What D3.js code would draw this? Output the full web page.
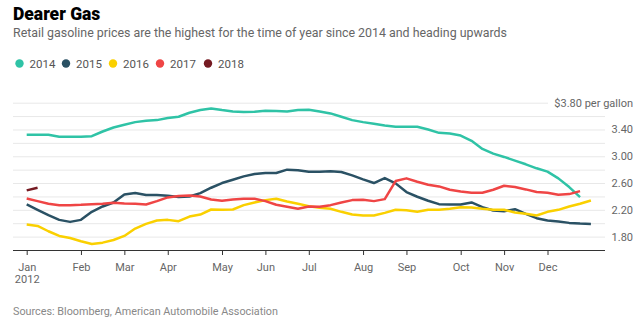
<!DOCTYPE html>
<html>
<head>
<meta charset="utf-8">
<script src="https://cdn.jsdelivr.net/npm/d3@7"></script>
<style>
  body { margin: 0; background: #fff; }
  text { font-family: Roboto, "Liberation Sans", sans-serif; }
  .axis path, .axis line { stroke: #333; }
  .axis text { fill: #666; font-size: 11px; }
</style>
</head>
<body>
<div id="chart"></div>
<script>
// weekly prices, index 0 = first week of january
var years = ["2014", "2015", "2016", "2017", "2018"];
var colors = ["#2fc3a6", "#2a5164", "#fad000", "#ef4545", "#751a22"];

var p2014 = [3.32, 3.32, 3.32, 3.29, 3.29, 3.29, 3.30, 3.37, 3.43, 3.47,
  3.51, 3.53, 3.54, 3.57, 3.59, 3.65, 3.69, 3.715, 3.69, 3.67,
  3.66, 3.665, 3.68, 3.675, 3.67, 3.69, 3.695, 3.67, 3.64, 3.59,
  3.54, 3.51, 3.485, 3.46, 3.44, 3.44, 3.44, 3.40, 3.35, 3.34,
  3.31, 3.23, 3.11, 3.04, 2.99, 2.935, 2.88, 2.82, 2.77, 2.67,
  2.54, 2.39];
var p2015 = [2.28, 2.20, 2.12, 2.05, 2.02, 2.05, 2.17, 2.25, 2.31, 2.43,
  2.45, 2.42, 2.42, 2.41, 2.39, 2.40, 2.45, 2.53, 2.60, 2.65,
  2.70, 2.735, 2.75, 2.75, 2.80, 2.79, 2.77, 2.77, 2.775, 2.765,
  2.715, 2.655, 2.60, 2.675, 2.595, 2.465, 2.395, 2.335, 2.285, 2.28,
  2.28, 2.31, 2.24, 2.19, 2.18, 2.21, 2.14, 2.075, 2.04, 2.025,
  2.005, 1.995, 1.99];
var p2016 = [1.98, 1.96, 1.88, 1.81, 1.78, 1.73, 1.69, 1.71, 1.75, 1.81,
  1.92, 1.99, 2.04, 2.05, 2.03, 2.10, 2.13, 2.205, 2.20, 2.205,
  2.27, 2.31, 2.345, 2.365, 2.325, 2.29, 2.255, 2.23, 2.215, 2.17,
  2.13, 2.115, 2.115, 2.155, 2.20, 2.195, 2.17, 2.20, 2.20, 2.215,
  2.24, 2.235, 2.215, 2.20, 2.20, 2.16, 2.14, 2.115, 2.17, 2.20,
  2.25, 2.29, 2.34];
var p2017 = [2.37, 2.33, 2.29, 2.27, 2.27, 2.275, 2.285, 2.29, 2.305, 2.295,
  2.29, 2.28, 2.33, 2.385, 2.405, 2.415, 2.40, 2.355, 2.335, 2.355,
  2.365, 2.365, 2.33, 2.275, 2.245, 2.215, 2.25, 2.245, 2.27, 2.31,
  2.345, 2.35, 2.33, 2.36, 2.63, 2.67, 2.62, 2.575, 2.55, 2.50,
  2.475, 2.455, 2.455, 2.50, 2.56, 2.54, 2.505, 2.465, 2.455, 2.425,
  2.435, 2.48];
var p2018 = [2.49, 2.53];

var monthLabels = ["Jan", "Feb", "Mar", "Apr", "May", "Jun", "Jul", "Aug", "Sep", "Oct", "Nov", "Dec"];
var monthWeeks = [0, 5, 9, 13, 18, 22, 26, 31, 35, 40, 44, 48];
var yTicks = [1.8, 2.2, 2.6, 3.0, 3.4, 3.8];
var gridValues = [1.8, 2.0, 2.2, 2.4, 2.6, 2.8, 3.0, 3.2, 3.4, 3.6, 3.8];

var series = [p2014, p2015, p2016, p2017, p2018];

var width = 644, height = 324;

var svg = d3.select("#chart").append("svg")
    .attr("width", width)
    .attr("height", height);

var xScale = d3.scaleLinear().domain([0, 52]).range([26.7, 590.9]);
var yScale = d3.scaleLinear().domain([1.6, 3.8]).range([250, 102.7]);

// title block
svg.append("text")
    .attr("x", 13).attr("y", 20)
    .attr("font-size", "17.5px")
    .attr("font-weight", 900)
    .attr("fill", "#000")
    .text("Dearer Gas");

svg.append("text")
    .attr("x", 13).attr("y", 37)
    .attr("font-size", "12.4px")
    .attr("fill", "#666")
    .text("Retail gasoline prices are the highest for the time of year since 2014 and heading upwards");

// legend
var legendX = [19.5, 66, 113, 160, 208];
var legend = svg.selectAll(".legend").data(years).enter().append("g")
    .attr("transform", (d, i) => "translate(" + legendX[i] + ",63.5)");
legend.append("circle")
    .attr("r", 4.2)
    .attr("fill", (d, i) => colors[i]);
legend.append("text")
    .attr("x", 10).attr("y", 4)
    .attr("font-size", "11.5px")
    .attr("fill", "#555")
    .text(d => d);

// grid
svg.append("g").selectAll("line").data(gridValues).enter().append("line")
    .attr("x1", 13)
    .attr("x2", d => d === 3.8 ? 548 : 605)
    .attr("y1", d => yScale(d) + 0.5)
    .attr("y2", d => yScale(d) + 0.5)
    .attr("stroke", "#e8e8e8")
    .attr("stroke-width", 1);

// y labels
svg.append("g").selectAll("text").data(yTicks).enter().append("text")
    .attr("x", 633)
    .attr("y", d => yScale(d) + 4)
    .attr("text-anchor", "end")
    .attr("font-size", "11px")
    .attr("fill", "#666")
    .text(d => d === 3.8 ? "$3.80 per gallon" : d.toFixed(2));

// x axis
var xAxis = d3.axisBottom(xScale)
    .tickValues(monthWeeks)
    .tickSize(5)
    .tickPadding(8)
    .tickFormat((d, i) => monthLabels[i]);

var gx = svg.append("g")
    .attr("class", "axis")
    .attr("transform", "translate(0,250)")
    .call(xAxis);
gx.select(".domain").remove();
gx.append("line")
    .attr("x1", 13).attr("x2", 605)
    .attr("y1", 0.5).attr("y2", 0.5)
    .attr("stroke", "#333");
gx.selectAll(".tick").filter(d => d === 0).append("text")
    .attr("y", 33)
    .attr("fill", "#666")
    .text("2012");

// lines
var line = d3.line()
    .x((d, i) => xScale(i))
    .y(d => yScale(d));

svg.append("g").selectAll("path").data(series).enter().append("path")
    .attr("d", d => line(d))
    .attr("fill", "none")
    .attr("stroke", (d, i) => colors[i])
    .attr("stroke-width", 2.5)
    .attr("stroke-linejoin", "round");

// source
svg.append("text")
    .attr("x", 13).attr("y", 315)
    .attr("font-size", "10.8px")
    .attr("fill", "#888")
    .text("Sources: Bloomberg, American Automobile Association");
</script>
</body>
</html>
